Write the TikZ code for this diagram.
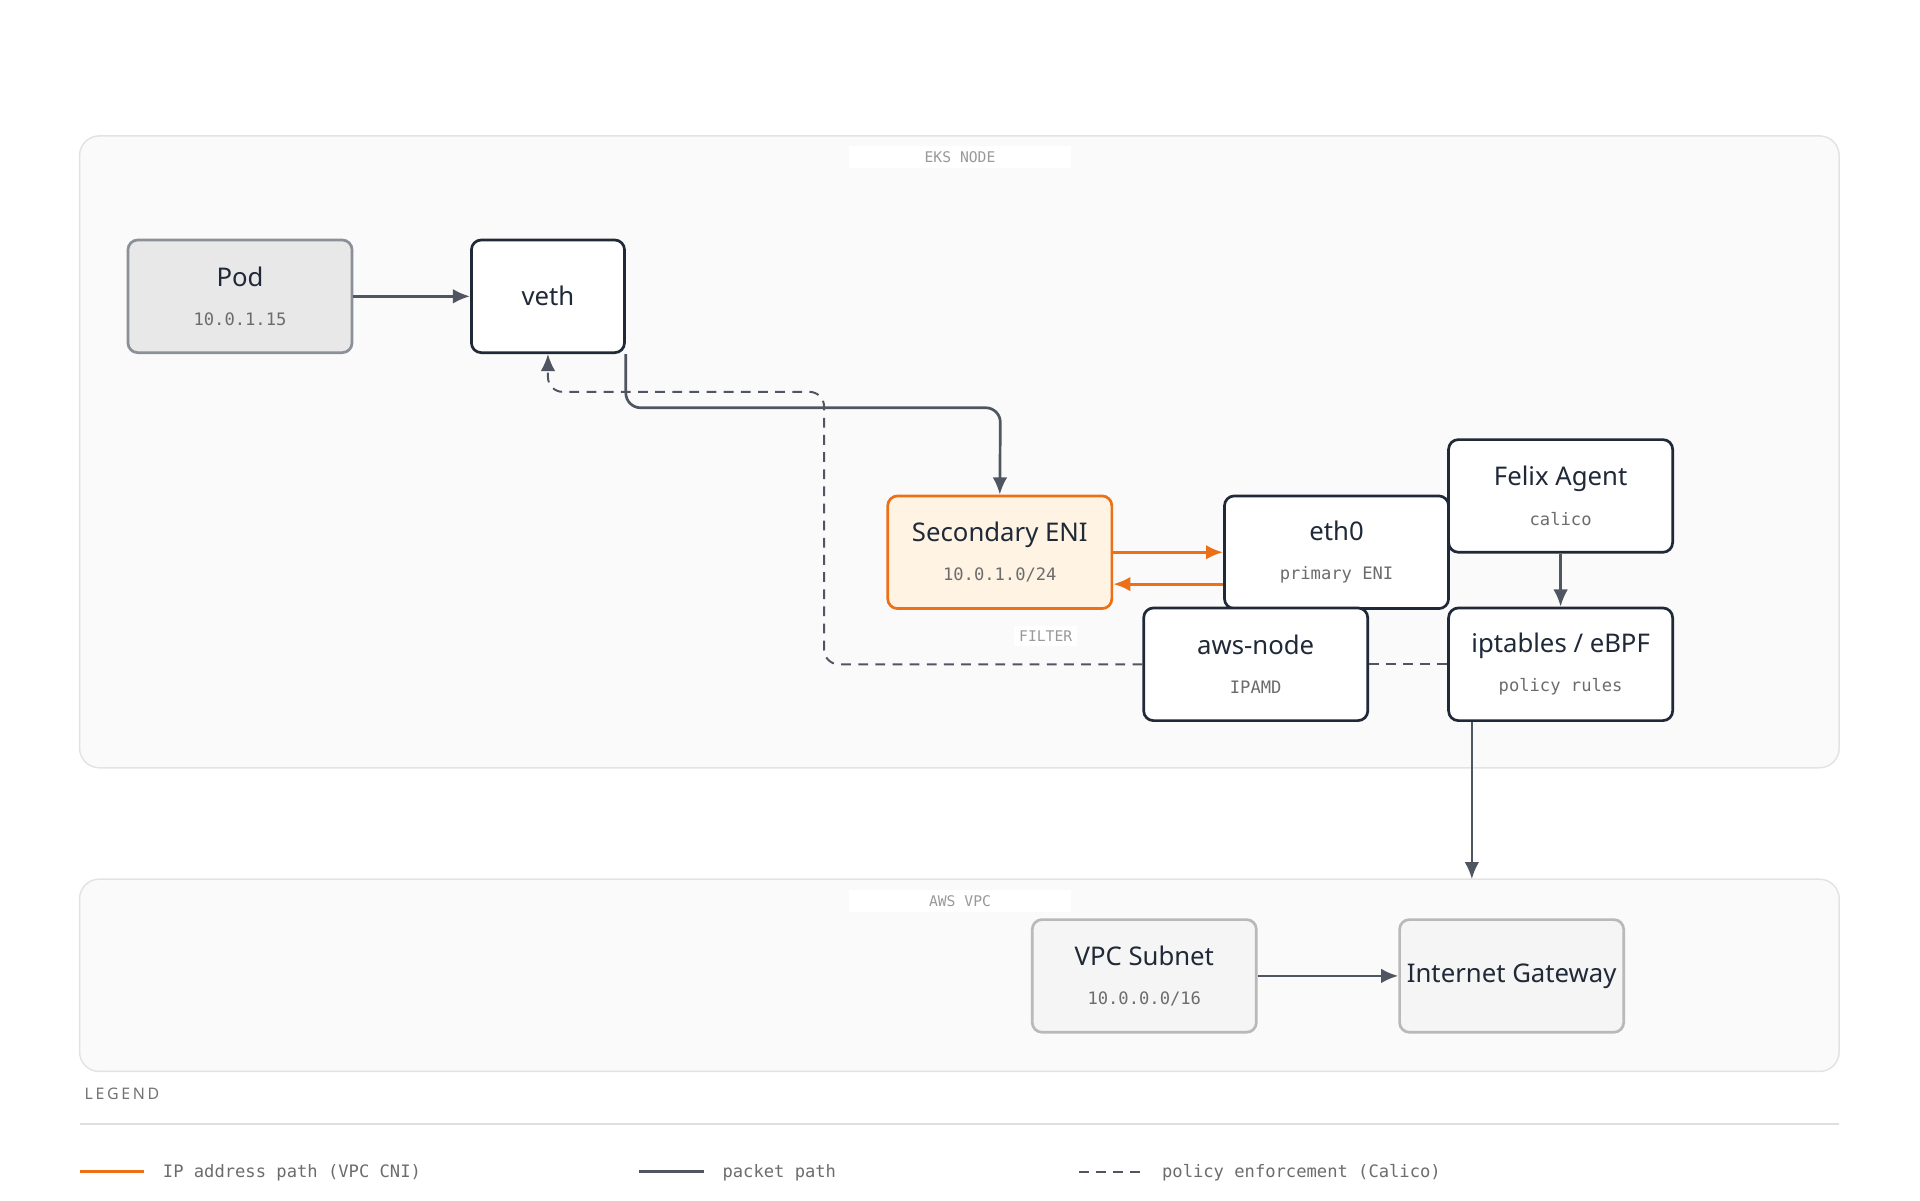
\documentclass[tikz,border=0pt]{standalone}
\usepackage{fontspec}
\setmainfont{Noto Sans}
\setmonofont{DejaVu Sans Mono}
\usetikzlibrary{positioning,arrows.meta}

\definecolor{ink}{HTML}{1F2937}
\definecolor{wire}{HTML}{505661}
\definecolor{cni}{HTML}{EC7016}
\definecolor{cnifill}{HTML}{FFF4E3}
\definecolor{muted}{HTML}{8A8F98}

\tikzset{
  box/.style={draw=ink, line width=1.1pt, rounded corners=4pt, fill=white,
    minimum width=91.5pt, minimum height=46pt, align=center, inner sep=0pt},
  podbox/.style={box, draw=muted, fill=gray!18},
  enibox/.style={box, draw=cni, fill=cnifill},
  vpcbox/.style={box, draw=gray!55, fill=gray!8},
  zone/.style={draw=gray!22, fill=gray!4, rounded corners=8pt, line width=0.6pt},
  tag/.style={fill=white, font=\ttfamily\fontsize{6}{7}\selectfont, text=gray!80, inner sep=2pt},
  packet/.style={draw=wire, line width=1.1pt, rounded corners=6pt, -{Latex[length=7pt,width=6pt]}},
  ipath/.style={draw=cni, line width=1.3pt, -{Latex[length=7pt,width=6pt]}},
  policy/.style={draw=wire, line width=0.8pt, dash pattern=on 4pt off 3pt, rounded corners=6pt},
}
\newcommand{\ttl}[2]{{\fontsize{10.5}{12}\selectfont\bfseries #1}\\[4pt]{\ttfamily\fontsize{7}{8}\selectfont\color{gray!85!black} #2}}

\begin{document}
\begin{tikzpicture}[x=0.5pt,y=-0.5pt, text=ink]
\useasboundingbox (0,0) rectangle (1568,980);

% zones
\draw[zone] (65,111) rectangle (1502,627);
\draw[zone] (65,718) rectangle (1502,875);
\node[tag, minimum width=91pt, minimum height=9pt] (eksTag) at (784,128) {EKS NODE};
\node[tag, minimum width=91pt, minimum height=9pt] (vpcTag) at (784,736) {AWS VPC};

% nodes
\node[podbox] (pod) at (196,242) {\ttl{Pod}{10.0.1.15}};
\node[box, minimum width=62.5pt] (veth) at (447.5,242) {{\fontsize{10.5}{12}\selectfont\bfseries veth}};
\node[enibox] (eni) at (816.5,451) {\ttl{Secondary ENI}{10.0.1.0/24}};
\node[box] (eth) at (1091.5,451) {\ttl{eth0}{primary ENI}};
\node[box] (felix) at (1274.5,405) {\ttl{Felix Agent}{calico}};
\node[box] (awsnode) at (1025.5,542.5) {\ttl{aws-node}{IPAMD}};
\node[box] (ipt) at (1274.5,542.5) {\ttl{iptables / eBPF}{policy rules}};
\node[vpcbox] (subnet) at (934.5,797) {\ttl{VPC Subnet}{10.0.0.0/16}};
\node[vpcbox] (igw) at (1234.5,797) {{\fontsize{10.5}{12}\selectfont\bfseries Internet Gateway}};
\node[tag] (filter) at (854,519.5) {FILTER};

% connectors
\draw[packet] (pod) -- (veth);
\draw[packet] (veth.south east) ++(0,0) |- (817,333) -- (eni.north);
\draw[ipath] (eni.east |- 0,451) -- (eth.west |- 0,451);
\draw[ipath] (eth.west |- 0,477) -- (eni.east |- 0,477);
\draw[packet] (felix) -- (ipt);
\coordinate (vpcTop) at (1202,718);
\draw[packet] (ipt.south -| vpcTop) -- (vpcTop);
\draw[packet] (subnet) -- (igw);
\draw[policy] (ipt.west) -- (awsnode.east);
\draw[policy, -{Latex[length=7pt,width=6pt]}] (awsnode.west) -| (673,320) -| (veth.south);

% legend
\node[anchor=west, font=\fontsize{6.5}{8}\selectfont, text=gray!90!black] (legend) at (62,893) {L\,E\,G\,E\,N\,D};
\draw[gray!25, line width=0.6pt] (65,918) -- (1502,918);
\draw[cni, line width=1.2pt] (65,957) -- (118,957);
\node[anchor=west, font=\ttfamily\fontsize{7}{8}\selectfont, text=gray!85!black] (lgA) at (126,958) {IP address path (VPC CNI)};
\draw[wire, line width=1.2pt] (522,957) -- (575,957);
\node[anchor=west, font=\ttfamily\fontsize{7}{8}\selectfont, text=gray!85!black] (lgB) at (583,958) {packet path};
\draw[policy] (881,957) -- (934,957);
\node[anchor=west, font=\ttfamily\fontsize{7}{8}\selectfont, text=gray!85!black] (lgC) at (942,958) {policy enforcement (Calico)};
\end{tikzpicture}
\end{document}
